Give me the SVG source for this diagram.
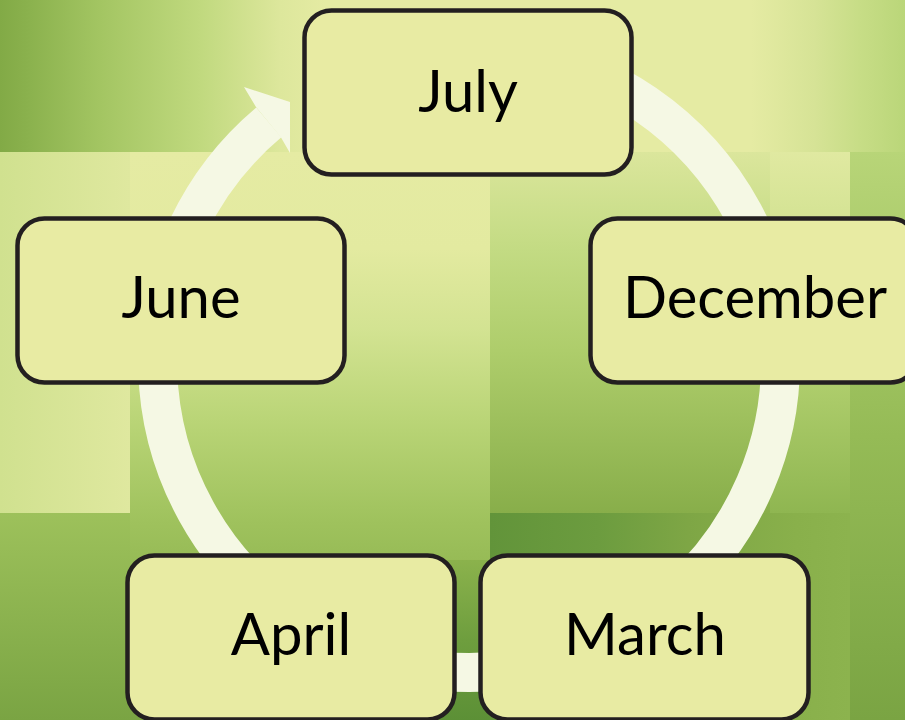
<svg xmlns="http://www.w3.org/2000/svg" width="905" height="720" viewBox="0 0 905 720">
  <style>
    .node rect { fill: #e8eba3; stroke: #231f20; stroke-width: 4.5; }
    .node text { font-family: Lato, "Liberation Sans", sans-serif; font-size: 58px; fill: #000; text-anchor: middle; }
    .ring { fill: none; stroke: #f5f8e4; stroke-width: 39; }
    .head { fill: #f5f8e4; }
  </style>
  <defs>
    <linearGradient id="gTop" x1="0" y1="0" x2="905" y2="0" gradientUnits="userSpaceOnUse">
      <stop offset="0" stop-color="#82aa46"/>
      <stop offset="0.03" stop-color="#8ab14d"/>
      <stop offset="0.11" stop-color="#a3c562"/>
      <stop offset="0.22" stop-color="#c0d97e"/>
      <stop offset="0.31" stop-color="#dde79c"/>
      <stop offset="0.36" stop-color="#e5eba3"/>
      <stop offset="0.83" stop-color="#e5eba3"/>
      <stop offset="0.9" stop-color="#d6e396"/>
      <stop offset="0.95" stop-color="#c7dd86"/>
      <stop offset="1" stop-color="#bad679"/>
    </linearGradient>
    <linearGradient id="gLeftMid" x1="0" y1="0" x2="130" y2="0" gradientUnits="userSpaceOnUse">
      <stop offset="0" stop-color="#d0e18f"/>
      <stop offset="1" stop-color="#dfe89f"/>
    </linearGradient>
    <linearGradient id="gMid" x1="0" y1="152" x2="0" y2="720" gradientUnits="userSpaceOnUse">
      <stop offset="0" stop-color="#e5eba3"/>
      <stop offset="0.17" stop-color="#e3eaa0"/>
      <stop offset="0.31" stop-color="#d3e392"/>
      <stop offset="0.47" stop-color="#bad577"/>
      <stop offset="0.65" stop-color="#9fc25d"/>
      <stop offset="0.86" stop-color="#86ad48"/>
      <stop offset="1" stop-color="#7aa443"/>
    </linearGradient>
    <linearGradient id="gMidLow" x1="0" y1="560" x2="0" y2="720" gradientUnits="userSpaceOnUse">
      <stop offset="0" stop-color="#8bb24c"/>
      <stop offset="0.5" stop-color="#6e9e3e"/>
      <stop offset="1" stop-color="#5c9036"/>
    </linearGradient>
    <linearGradient id="gRight" x1="0" y1="152" x2="0" y2="513" gradientUnits="userSpaceOnUse">
      <stop offset="0" stop-color="#dbe69c"/>
      <stop offset="0.27" stop-color="#c3db83"/>
      <stop offset="0.55" stop-color="#aecd6b"/>
      <stop offset="1" stop-color="#88ae4a"/>
    </linearGradient>
    <linearGradient id="gRightBlock" x1="0" y1="152" x2="0" y2="513" gradientUnits="userSpaceOnUse">
      <stop offset="0" stop-color="#e0e9a1"/>
      <stop offset="0.3" stop-color="#cde08c"/>
      <stop offset="0.6" stop-color="#b2d06f"/>
      <stop offset="1" stop-color="#8fb651"/>
    </linearGradient>
    <linearGradient id="gEdge" x1="0" y1="152" x2="0" y2="720" gradientUnits="userSpaceOnUse">
      <stop offset="0" stop-color="#b8d578"/>
      <stop offset="0.5" stop-color="#95bb56"/>
      <stop offset="1" stop-color="#7aa443"/>
    </linearGradient>
    <linearGradient id="gDark" x1="490" y1="0" x2="850" y2="0" gradientUnits="userSpaceOnUse">
      <stop offset="0" stop-color="#62943a"/>
      <stop offset="0.3" stop-color="#6c9c3f"/>
      <stop offset="0.55" stop-color="#7ea645"/>
      <stop offset="0.85" stop-color="#89b04b"/>
      <stop offset="1" stop-color="#8cb34e"/>
    </linearGradient>
    <linearGradient id="gBotLeft" x1="0" y1="513" x2="0" y2="720" gradientUnits="userSpaceOnUse">
      <stop offset="0" stop-color="#9dc15b"/>
      <stop offset="1" stop-color="#7aa443"/>
    </linearGradient>
  </defs>

  <g id="background">
    <rect x="0" y="0" width="905" height="720" fill="url(#gMid)"/>
    <rect x="296" y="560" width="194" height="160" fill="url(#gMidLow)"/>
    <rect x="0" y="0" width="905" height="152" fill="url(#gTop)"/>
    <rect x="0" y="152" width="130" height="361" fill="url(#gLeftMid)"/>
    <rect x="0" y="513" width="130" height="207" fill="url(#gBotLeft)"/>
    <rect x="490" y="152" width="280" height="361" fill="url(#gRight)"/>
    <rect x="770" y="152" width="80" height="361" fill="url(#gRightBlock)"/>
    <rect x="850" y="152" width="55" height="568" fill="url(#gEdge)"/>
    <rect x="490" y="513" width="360" height="207" fill="url(#gDark)"/>
  </g>

  <g id="connectors">
    <path class="ring" d="M 523.1 54.2 A 311.5 311.5 0 1 1 268.8 122.4"/>
    <polygon class="head" points="256,107 244,87 290,102 290,153 281,137.5"/>
  </g>

  <g id="july" class="node">
    <rect x="304.5" y="10.5" width="327" height="164" rx="27" ry="27"/>
    <text x="468" y="112">July</text>
  </g>
  <g id="december" class="node">
    <rect x="590.5" y="218.5" width="327" height="164" rx="27" ry="27"/>
    <text x="755" y="318">December</text>
  </g>
  <g id="march" class="node">
    <rect x="480.5" y="555.5" width="328" height="164" rx="27" ry="27"/>
    <text x="645" y="655">March</text>
  </g>
  <g id="april" class="node">
    <rect x="127.5" y="555.5" width="327" height="164" rx="27" ry="27"/>
    <text x="291" y="655">April</text>
  </g>
  <g id="june" class="node">
    <rect x="17.5" y="218.5" width="327" height="164" rx="27" ry="27"/>
    <text x="181" y="318">June</text>
  </g>
</svg>
